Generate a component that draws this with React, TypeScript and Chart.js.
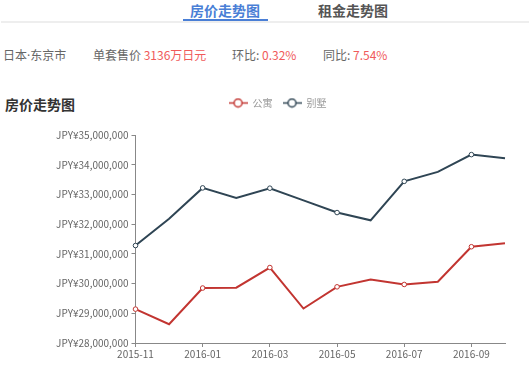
import React, { useEffect, useRef } from "react";
import { Chart, registerables } from "chart.js";

Chart.register(...registerables);

const months = [
  "2015-11", "2015-12", "2016-01", "2016-02", "2016-03", "2016-04",
  "2016-05", "2016-06", "2016-07", "2016-08", "2016-09", "2016-10",
];
const apartmentValues = [
  29140000, 28630000, 29850000, 29860000, 30540000, 29160000,
  29890000, 30140000, 29970000, 30060000, 31240000, 31360000,
];
const villaValues = [
  31280000, 32180000, 33220000, 32880000, 33210000, 32800000,
  32390000, 32130000, 33440000, 33760000, 34340000, 34220000,
];
const seriesNames = ["公寓", "别墅"];
const seriesColors = ["#c23531", "#2f4554"];
const yMin = 28000000;
const yMax = 35000000;
const yStep = 1000000;

const FONT = '"Noto Sans CJK SC", "Noto Sans", sans-serif';

function makeLegendIcon(color: string): HTMLCanvasElement {
  const c = document.createElement("canvas");
  c.width = 19;
  c.height = 11;
  const g = c.getContext("2d")!;
  g.strokeStyle = color;
  g.lineWidth = 1.5;
  g.beginPath();
  g.moveTo(0, 5.5);
  g.lineTo(19, 5.5);
  g.stroke();
  g.beginPath();
  g.arc(9.5, 5.5, 4, 0, Math.PI * 2);
  g.fillStyle = "#fff";
  g.fill();
  g.stroke();
  return c;
}

function formatYen(v: number): string {
  return "JPY¥" + Math.round(v).toLocaleString("en-US");
}

const legendSpacer = {
  id: "legendSpacer",
  beforeInit(chart: any) {
    const lg = chart.legend;
    if (!lg) return;
    const orig = lg.fit;
    lg.fit = function () {
      orig.call(this);
      this.height += 17;
    };
  },
};

export default function App() {
  const ref = useRef<HTMLCanvasElement | null>(null);

  useEffect(() => {
    if (!ref.current) return;
    const icons = seriesColors.map(makeLegendIcon);
    const datasets = [apartmentValues, villaValues].map((vals, i) => ({
      label: seriesNames[i],
      data: vals,
      borderColor: seriesColors[i],
      backgroundColor: "#fff",
      borderWidth: 2,
      pointRadius: (ctx: any) => (ctx.dataIndex % 2 === 0 && ctx.dataIndex < 11 ? 2.3 : 0),
      pointBorderWidth: 1,
      pointBackgroundColor: "#fff",
      pointBorderColor: seriesColors[i],
      pointStyle: "circle",
      tension: 0,
      fill: false,
    }));

    const chart = new Chart(ref.current, {
      type: "line",
      data: { labels: months, datasets: datasets as any },
      plugins: [legendSpacer],
      options: {
        animation: false,
        responsive: false,
        maintainAspectRatio: false,
        layout: { padding: { left: 50, right: 24, top: 0, bottom: 0 } },
        plugins: {
          tooltip: { enabled: false },
          legend: {
            display: true,
            position: "top",
            align: "center",
            labels: {
              usePointStyle: true,
              pointStyleWidth: 19,
              padding: 10,
              color: "#999",
              font: { family: FONT, size: 10 },
              generateLabels: (ch: any) =>
                ch.data.datasets.map((d: any, i: number) => ({
                  text: d.label,
                  fillStyle: "#fff",
                  strokeStyle: seriesColors[i],
                  pointStyle: icons[i],
                  fontColor: "#999",
                  hidden: false,
                  lineWidth: 0,
                  datasetIndex: i,
                })),
            },
          },
        },
        scales: {
          x: {
            type: "category",
            offset: false,
            afterFit: (s: any) => {
              s.height = 30;
            },
            border: { display: true, color: "#888", width: 1 },
            grid: {
              drawOnChartArea: false,
              drawTicks: true,
              tickLength: 4,
              color: (ctx: any) => (ctx.index % 2 === 0 ? "#888" : "rgba(0,0,0,0)"),
            },
            ticks: {
              autoSkip: false,
              maxRotation: 0,
              padding: 1,
              color: "#666",
              font: { family: FONT, size: 10 },
              callback: (_v: any, i: number) => (i % 2 === 0 ? months[i] : ""),
            },
          },
          y: {
            min: yMin,
            max: yMax,
            afterFit: (s: any) => {
              s.width = 85.5;
            },
            border: { display: true, color: "#888", width: 1 },
            grid: { drawOnChartArea: false, drawTicks: true, tickLength: 4, color: "#888" },
            ticks: {
              stepSize: yStep,
              padding: 3,
              color: "#666",
              font: { family: FONT, size: 10 },
              callback: (v: any) => formatYen(Number(v)),
            },
          },
        },
      },
    });
    return () => chart.destroy();
  }, []);

  const gray = "#666";
  const red = "#f05a5a";
  const row: React.CSSProperties = {
    position: "absolute",
    top: 47,
    fontSize: 12,
    lineHeight: "16px",
    whiteSpace: "nowrap",
    color: gray,
  };
  return (
    <div
      style={{
        position: "fixed",
        left: 0,
        top: 0,
        width: 529,
        height: 373,
        background: "#fff",
        fontFamily: FONT,
        overflow: "hidden",
      }}
    >
      <div style={{ position: "absolute", left: 1, right: 0, top: 21, height: 2, background: "#eee" }} />
      <div style={{ position: "absolute", left: 183, width: 85, top: 19, height: 2, background: "#4a7fd6" }} />
      <div
        style={{
          position: "absolute",
          left: 190,
          top: 1,
          fontSize: 14,
          lineHeight: "18px",
          fontWeight: "bold",
          color: "#4a7fd6",
          whiteSpace: "nowrap",
        }}
      >
        房价走势图
      </div>
      <div
        style={{
          position: "absolute",
          left: 318,
          top: 1,
          fontSize: 14,
          lineHeight: "18px",
          fontWeight: "bold",
          color: "#555",
          whiteSpace: "nowrap",
        }}
      >
        租金走势图
      </div>
      <div style={{ ...row, left: 3 }}>
        日本<span style={{ fontFamily: '"Noto Sans", sans-serif' }}>·</span>东京市
      </div>
      <div style={{ ...row, left: 93 }}>
        单套售价 <span style={{ color: red }}>3136万日元</span>
      </div>
      <div style={{ ...row, left: 232 }}>
        环比: <span style={{ color: red }}>0.32%</span>
      </div>
      <div style={{ ...row, left: 323 }}>
        同比: <span style={{ color: red }}>7.54%</span>
      </div>
      <div
        style={{
          position: "absolute",
          top: 94,
          left: 5,
          fontSize: 14,
          lineHeight: "20px",
          fontWeight: "bold",
          color: "#333",
          whiteSpace: "nowrap",
        }}
      >
        房价走势图
      </div>
      <canvas
        ref={ref}
        width={529}
        height={285}
        style={{ position: "absolute", left: 0, top: 88, width: 529, height: 285 }}
      />
    </div>
  );
}
